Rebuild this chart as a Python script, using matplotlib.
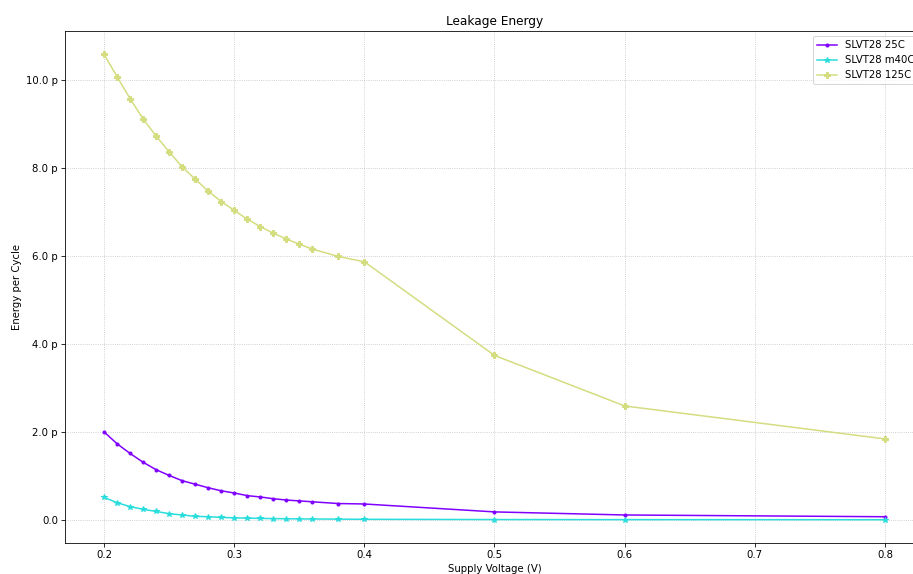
import numpy as np
import matplotlib
matplotlib.use("Agg")
import matplotlib.pyplot as plt
from matplotlib.ticker import EngFormatter

voltage = [0.20, 0.21, 0.22, 0.23, 0.24, 0.25, 0.26, 0.27, 0.28, 0.29, 0.30,
           0.31, 0.32, 0.33, 0.34, 0.35, 0.36, 0.38, 0.40, 0.50, 0.60, 0.80]

# energy per cycle in pJ
energy_25c = [2.00, 1.73, 1.51, 1.31, 1.14, 1.01, 0.89, 0.81, 0.73, 0.66, 0.61,
              0.55, 0.52, 0.48, 0.45, 0.43, 0.41, 0.37, 0.36, 0.18, 0.11, 0.07]
energy_m40c = [0.51, 0.39, 0.30, 0.24, 0.19, 0.14, 0.11, 0.08, 0.07, 0.055, 0.045,
               0.038, 0.032, 0.028, 0.024, 0.021, 0.019, 0.015, 0.012, 0.006, 0.004, 0.002]
energy_125c = [10.59, 10.08, 9.58, 9.12, 8.73, 8.37, 8.03, 7.75, 7.48, 7.24, 7.04,
               6.84, 6.67, 6.52, 6.39, 6.27, 6.16, 5.99, 5.87, 3.74, 2.59, 1.84]

labels = ["SLVT28 25C", "SLVT28 m40C", "SLVT28 125C"]
markers = [".", "*", "P"]

colors = plt.cm.rainbow(np.linspace(0, 1, 4))

# drawn at a low dpi so fonts/lines come out at the reference's scale
fig = plt.figure(figsize=(913 / 73, 574 / 73), dpi=73)
ax = fig.add_axes([65 / 913, 31 / 574, 859 / 913, 512 / 574])

for i, series in enumerate([energy_25c, energy_m40c, energy_125c]):
    ax.plot(voltage, np.array(series) * 1e-12, marker=markers[i],
            color=colors[i], label=labels[i])

ax.yaxis.set_major_formatter(EngFormatter(places=1))
ax.grid(True, linestyle=":", color="silver")
ax.set_title("Leakage Energy")
ax.set_xlabel("Supply Voltage (V)")
ax.set_ylabel("Energy per Cycle")
ax.legend(loc="upper right")

fig.savefig("out.png", dpi=73)
